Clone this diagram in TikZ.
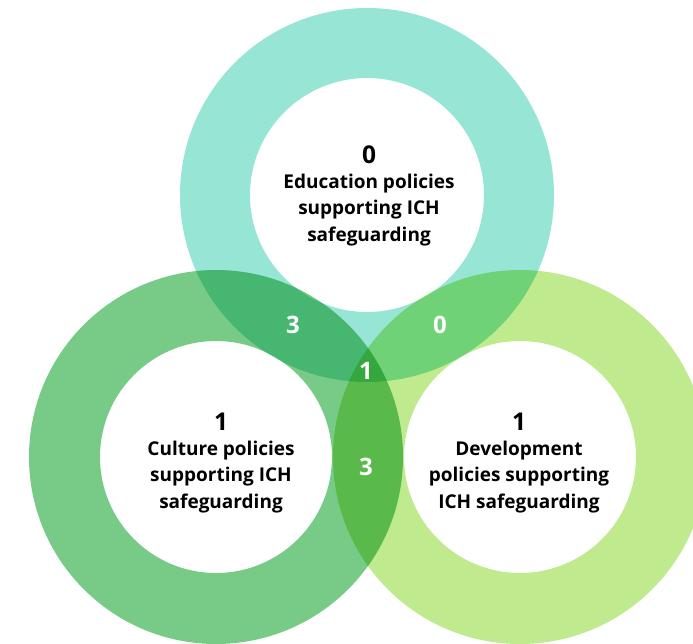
\documentclass[tikz,border=0pt]{standalone}
\usepackage{fontspec}
\setmainfont{Open Sans}
\definecolor{cTop}{RGB}{150,229,213}
\definecolor{cLeft}{RGB}{119,203,135}
\definecolor{cRight}{RGB}{192,234,142}
\begin{document}
\begin{tikzpicture}[x=1pt,y=-1pt,
  ring/.style={even odd rule, blend mode=multiply},
  lbl/.style={align=center, text=black, font=\fontsize{19}{26.5}\selectfont\bfseries, inner sep=0pt},
  num/.style={text=black, font=\fontsize{24.5}{24.5}\selectfont\bfseries, inner sep=0pt},
  wnum/.style={text=white, font=\fontsize{24}{24}\selectfont\bfseries, inner sep=0pt}]
\useasboundingbox (0,0) rectangle (693,643);
\clip (0,0) rectangle (693,643);
\fill[cTop, ring] (367,195) circle[radius=187] (367,195) circle[radius=117];
\fill[cLeft, ring] (216,457) circle[radius=187] (216,457) circle[radius=116];
\fill[cRight, ring] (520,457) circle[radius=187] (520,457) circle[radius=116];
\node[num] (ntop) at (369,155) {0};
\node[lbl] (ltop) at (369,210) {Education policies\\supporting ICH\\safeguarding};
\node[num] (nleft) at (221,422) {1};
\node[lbl] (lleft) at (221,477) {Culture policies\\supporting ICH\\safeguarding};
\node[num] (nright) at (519,422) {1};
\node[lbl] (lright) at (519,477) {Development\\policies supporting\\ICH safeguarding};
\node[wnum] (tl) at (293,325) {3};
\node[wnum] (tr) at (440,325) {0};
\node[wnum] (ctr) at (366,371) {1};
\node[wnum] (lr) at (366,467) {3};
\end{tikzpicture}
\end{document}
